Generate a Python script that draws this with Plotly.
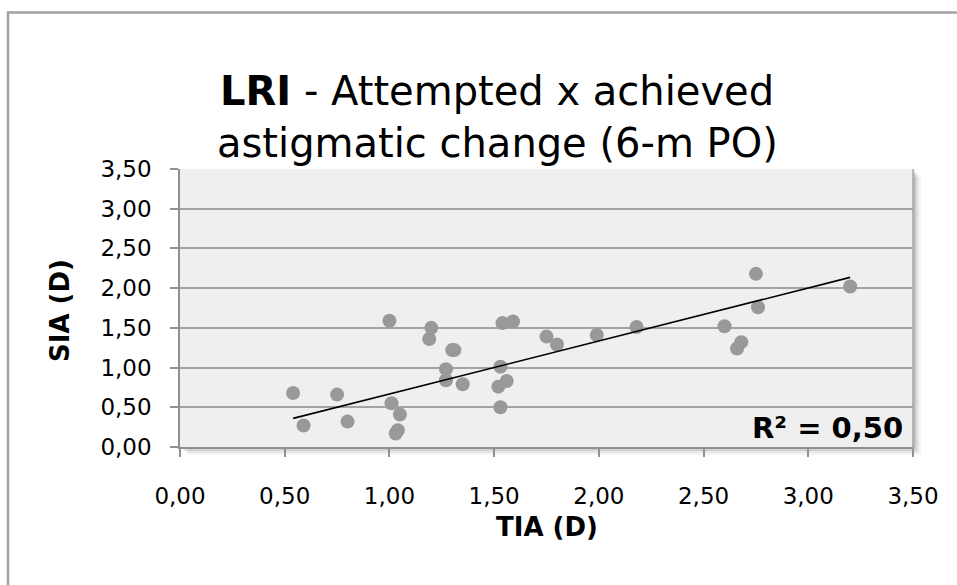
import numpy as np
import plotly.graph_objects as go

# Data (TIA attempted vs SIA achieved, diopters)
tia = [0.54, 0.59, 0.75, 0.80, 1.00, 1.01, 1.05, 1.03, 1.04, 1.20, 1.19,
       1.30, 1.31, 1.27, 1.27, 1.35, 1.54, 1.59, 1.53, 1.56, 1.52, 1.53,
       1.75, 1.80, 1.99, 2.18, 2.60, 2.68, 2.66, 2.75, 2.76, 3.20]
sia = [0.68, 0.27, 0.66, 0.32, 1.59, 0.55, 0.41, 0.17, 0.21, 1.50, 1.36,
       1.22, 1.22, 0.98, 0.84, 0.79, 1.56, 1.58, 1.01, 0.83, 0.76, 0.50,
       1.39, 1.29, 1.41, 1.51, 1.52, 1.32, 1.24, 2.18, 1.76, 2.02]

x_ticks = [0, 0.5, 1.0, 1.5, 2.0, 2.5, 3.0, 3.5]
y_ticks = [0, 0.5, 1.0, 1.5, 2.0, 2.5, 3.0, 3.5]
tick_text = ["0,00", "0,50", "1,00", "1,50", "2,00", "2,50", "3,00", "3,50"]
title_line1 = "<b>LRI</b> - Attempted x achieved"
title_line2 = "astigmatic change (6-m PO)"
x_title = "TIA (D)"
y_title = "SIA (D)"
r2_label = "R² = 0,50"

# linear trendline through the origin (as in the reference chart)
xa = np.array(tia)
ya = np.array(sia)
slope = float((xa * ya).sum() / (xa * xa).sum())
x_line = np.array([xa.min(), xa.max()])
y_line = slope * x_line

W, H = 957, 585
L, R, T, B = 180, 44, 169, 138
pw, ph = W - L - R, H - T - B

def px(x):
    return (x - L) / pw

def py(y):
    return (H - B - y) / ph

fig = go.Figure()
fig.add_trace(go.Scatter(x=tia, y=sia, mode="markers",
                         marker=dict(size=14, color="#999999"),
                         showlegend=False, hoverinfo="skip"))
fig.add_trace(go.Scatter(x=x_line, y=y_line, mode="lines",
                         line=dict(color="black", width=1.6),
                         showlegend=False, hoverinfo="skip"))

shapes = []
# soft shadow of plot area
for i, a in enumerate([0.12, 0.09, 0.06, 0.04]):
    off = 2 + 2 * i
    shapes.append(dict(type="rect", xref="paper", yref="paper", layer="below",
                       x0=px(L + off), x1=px(L + pw + off),
                       y0=py(T + off), y1=py(T + ph + off),
                       fillcolor=f"rgba(0,0,0,{a})", line=dict(width=0)))
# plot background
shapes.append(dict(type="rect", xref="paper", yref="paper", layer="below",
                   x0=0, x1=1, y0=0, y1=1,
                   fillcolor="#efefef", line=dict(width=0)))
# outer chart border
shapes.append(dict(type="rect", xref="paper", yref="paper", layer="below",
                   x0=px(8), x1=px(W + 20), y0=py(12.5), y1=py(H + 20),
                   fillcolor="rgba(0,0,0,0)", line=dict(color="#a3a3a3", width=2.5)))
# right plot border
shapes.append(dict(type="line", xref="paper", yref="paper",
                   x0=1, x1=1, y0=0, y1=1, line=dict(color="#a8a8a8", width=1.5)))

annotations = [
    dict(text=title_line1, xref="paper", yref="paper", x=px(497), y=py(91),
         xanchor="center", yanchor="middle", showarrow=False,
         font=dict(size=40, color="black")),
    dict(text=title_line2, xref="paper", yref="paper", x=px(497), y=py(143),
         xanchor="center", yanchor="middle", showarrow=False,
         font=dict(size=40, color="black")),
    dict(text=f"<b>{x_title}</b>", xref="paper", yref="paper", x=px(547), y=py(527),
         xanchor="center", yanchor="middle", showarrow=False,
         font=dict(size=26, color="black")),
    dict(text=f"<b>{y_title}</b>", xref="paper", yref="paper", x=px(60), y=py(310),
         xanchor="center", yanchor="middle", showarrow=False, textangle=-90,
         font=dict(size=26, color="black")),
    dict(text=f"<b>{r2_label}</b>", xref="paper", yref="paper",
         x=px(905), y=py(428), xanchor="right", yanchor="middle",
         showarrow=False, font=dict(size=29, color="black")),
]

fig.update_layout(
    width=W, height=H,
    margin=dict(l=L, r=R, t=T, b=B),
    paper_bgcolor="white",
    plot_bgcolor="rgba(0,0,0,0)",
    font=dict(family="DejaVu Sans", color="black"),
    xaxis=dict(range=[0, 3.5], tickvals=x_ticks, ticktext=tick_text,
               showgrid=False, zeroline=False,
               showline=True, linecolor="#909090", linewidth=1.5,
               ticks="outside", ticklen=8, tickcolor="#909090", tickwidth=1.5,
               ticklabelstandoff=20,
               tickfont=dict(size=23)),
    yaxis=dict(range=[0, 3.5], tickvals=y_ticks, ticktext=tick_text,
               showgrid=True, gridcolor="#a4a4a4", gridwidth=1.5,
               zeroline=False,
               showline=True, linecolor="#909090", linewidth=1.5,
               ticks="outside", ticklen=8, tickcolor="#909090", tickwidth=1.5,
               ticklabelstandoff=14,
               tickfont=dict(size=23)),
    shapes=shapes,
    annotations=annotations,
)

fig.write_html("out.html")
